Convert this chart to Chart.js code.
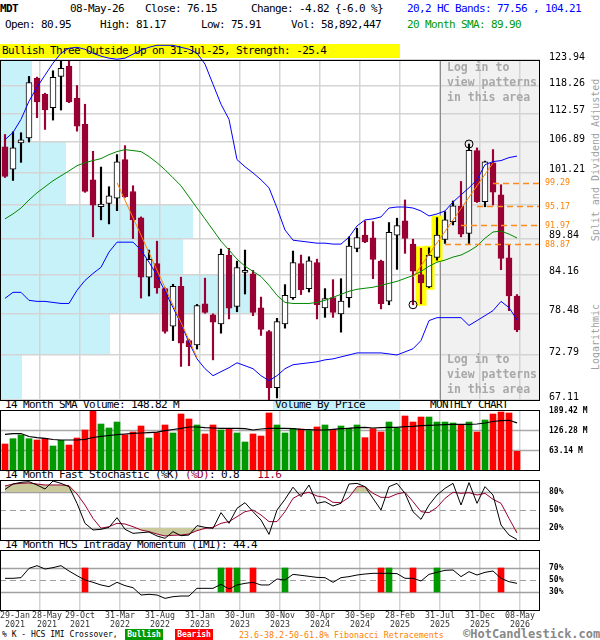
<!DOCTYPE html>
<html><head><meta charset="utf-8">
<script src="https://cdn.jsdelivr.net/npm/chart.js@4.4.1/dist/chart.umd.min.js"></script>
<style>
html,body{margin:0;padding:0;background:#fff;}
#wrap{position:relative;width:600px;height:640px;overflow:hidden;font-family:"DejaVu Sans Mono",monospace;}
canvas{position:absolute;left:0;top:0;z-index:1;}
.t{position:absolute;white-space:pre;font-size:11px;letter-spacing:-0.62px;line-height:12px;color:#000;z-index:0;}
.s{position:absolute;white-space:pre;font-size:8px;line-height:10px;color:#000;z-index:0;}
.lg{position:absolute;white-space:pre;font-weight:bold;font-size:11.5px;line-height:15px;color:#a8a8a8;z-index:2;}
.rot{position:absolute;white-space:pre;font-size:10px;color:#a0a0a0;transform:translate(-50%,-50%) rotate(-90deg);z-index:0;}
</style></head>
<body><div id="wrap">
<div class="t" style="left:0;top:3px;font-weight:bold;">MDT</div>
<div class="t" style="left:70px;top:3px;">08-May-26</div>
<div class="t" style="left:145px;top:3px;">Close: 76.15</div>
<div class="t" style="left:251px;top:3px;">Change: -4.82 {-6.0 %}</div>
<div class="t" style="left:407px;top:3px;color:#0000ff;">20,2 HC Bands: 77.56 , 104.21</div>
<div class="t" style="left:5px;top:19px;">Open: 80.95</div>
<div class="t" style="left:100px;top:19px;">High: 81.17</div>
<div class="t" style="left:201px;top:19px;">Low: 75.91</div>
<div class="t" style="left:291px;top:19px;">Vol: 58,892,447</div>
<div class="t" style="left:407px;top:19px;color:#009900;">20 Month SMA: 89.90</div>
<div class="t" style="left:0;top:44px;width:398px;height:14px;line-height:14px;padding-left:2px;background:#ffff00;">Bullish Three Outside Up on 31-Jul-25, Strength: -25.4</div>

<div class="t" style="left:5px;top:399px;">14 Month SMA Volume: 148.82 M</div>
<div class="t" style="left:273px;top:400px;width:125px;height:10px;line-height:10px;padding-left:2px;background:#c8f2fa;">Volume By Price</div>
<div class="t" style="left:430px;top:399px;">MONTHLY CHART</div>
<div class="t" style="left:5px;top:469px;">14 Month Fast Stochastic (%K) <span style="color:#990033">(%D)</span>: 0.8   <span style="color:#990033">11.6</span></div>
<div class="t" style="left:5px;top:539px;">14 Month HCS Intraday Momentum (IMI): 44.4</div>

<div class="s" style="left:2px;top:630px;">% K - HCS IMI Crossover,</div>
<div class="s" style="left:125px;top:629px;width:38px;height:11px;line-height:11px;background:#009900;color:#fff;font-weight:bold;text-align:center;">Bullish</div>
<div class="s" style="left:175px;top:629px;width:38px;height:11px;line-height:11px;background:#ff0000;color:#fff;font-weight:bold;text-align:center;">Bearish</div>
<div class="s" style="left:239px;top:630px;font-size:8.3px;color:#ff8000;">23.6-38.2-50-61.8% Fibonacci Retracements</div>
<div class="t" style="left:463px;top:628px;font-size:12px;letter-spacing:0;line-height:12px;font-weight:bold;color:#888;">©HotCandlestick.com</div>

<div class="rot" style="left:595px;top:160px;">Split and Dividend Adjusted</div>
<div class="rot" style="left:595px;top:337px;">Logarithmic</div>

<div class="lg" style="left:447px;top:60px;">Log in to
view patterns
in this area</div>
<div class="lg" style="left:447px;top:352px;">Log in to
view patterns
in this area</div>

<canvas id="cMain" width="600" height="640"></canvas>
<canvas id="cVol" width="600" height="640"></canvas>
<canvas id="cSto" width="600" height="640"></canvas>
<canvas id="cImi" width="600" height="640"></canvas>
</div>
<script>
// ---------------- DATA ----------------
const tickMonths = [0,4,9,14,19,24,29,34,39,44,49,54,59,64];
const tickDates = ['29-Jan','28-May','29-Oct','31-Mar','31-Aug','31-Jan','30-Jun','30-Nov','30-Apr','30-Sep','28-Feb','31-Jul','31-Dec','08-May'];
const tickYears = ['2021','2021','2021','2022','2022','2023','2023','2023','2024','2024','2025','2025','2025','2026'];
const priceTicks = [67.11,72.79,78.48,84.16,89.84,95.53,101.21,106.89,112.57,118.26,123.94];
const volTicks = [63.14,126.28,189.42];
const stochTicks = [20,50,80];
const imiTicks = [30,50,70];

const openP = [105.95,101.8,106.7,107.69,119.9,116.52,113.74,120.32,122.58,115.69,
 110.35,99.85,95.11,95.69,96.58,103.55,97.76,93.21,83.76,85.85,
 82.05,76.67,82.39,74.71,74.12,79.84,78.27,77.0,87.17,79.44,
 84.47,84.27,79.24,75.94,68.63,77.0,80.72,85.85,82.05,86.01,
 79.24,80.72,78.37,80.72,88.23,90.36,89.91,86.22,80.22,90.36,
 92.71,88.91,84.16,82.29,86.8,89.65,92.59,95.23,90.65,105.25,
 95.98,102.93,97.17,86.74,80.95];
const highP = [108.35,108.89,108.69,120.32,120.17,116.73,121.55,123.74,123.9,118.35,
 114.43,105.12,102.17,98.6,104.49,106.19,98.78,93.38,87.96,89.38,
 82.17,82.69,83.76,74.85,79.74,83.61,78.41,88.12,88.23,86.22,
 87.96,84.79,80.81,76.08,77.77,82.64,87.8,87.17,86.9,86.53,
 82.05,83.38,83.53,90.08,91.49,92.71,92.59,86.38,92.43,93.16,
 96.28,89.7,88.23,88.32,93.26,94.27,96.1,99.55,106.51,105.76,
 103.27,105.44,98.96,88.75,81.17];
const lowP = [100.26,99.73,103.04,106.89,111.69,109.35,111.21,113.24,114.75,109.01,
 97.62,90.08,92.88,92.21,94.44,96.73,89.81,80.66,80.96,81.36,
 75.71,74.71,71.3,71.39,73.57,78.48,72.15,75.71,77.68,78.7,
 81.25,78.14,75.4,66.96,67.36,76.4,80.47,81.17,81.55,77.68,
 77.9,77.9,75.85,79.34,87.69,89.14,83.53,79.1,79.69,84.95,
 87.44,79.69,79.84,82.17,86.38,89.02,92.04,90.08,89.02,95.84,
 95.11,95.4,84.9,78.85,75.91];
const closeP = [100.44,105.76,107.29,119.01,114.91,113.24,120.1,122.08,114.91,110.01,
 97.76,95.4,95.57,96.99,103.12,96.87,92.88,83.76,86.49,82.14,
 75.94,82.39,74.34,73.89,79.59,78.6,77.22,87.28,79.19,85.22,
 84.79,78.6,76.22,68.63,77.31,81.06,86.01,81.9,86.26,79.69,
 80.57,78.6,80.22,88.59,89.97,89.27,86.49,79.84,90.82,91.92,
 89.81,84.68,82.88,87.17,90.36,92.88,95.28,90.53,105.3,95.98,
 103.12,97.66,86.64,80.96,76.15];
const upperBand = [107.35,108.75,111.35,115.06,117.99,120.61,123.24,125.47,126.6,126.82,
 126.37,125.47,124.8,124.35,124.12,124.35,125.25,126.15,126.82,127.27,
 127.27,127.27,126.82,126.37,125.47,123.02,118.63,114.43,111.35,103.55,
 102.23,101.1,99.85,98.42,94.89,91.2,89.54,89.38,89.22,89.06,
 89.06,88.91,88.91,90.03,91.87,92.88,93.05,93.38,94.89,95.06,
 95.06,94.89,94.39,93.54,93.88,94.39,95.92,97.17,98.42,99.85,
 102.61,103.18,103.37,103.93,104.21];
const lowerBand = [80.62,81.5,81.5,80.33,80.18,80.18,80.03,79.88,79.88,81.8,
 83.27,84.32,85.27,87.64,89.22,89.22,89.22,87.96,86.06,84.01,
 81.65,79.29,77.04,74.44,72.28,71.01,70.12,70.63,71.14,71.77,
 71.39,71.01,70.12,69.49,70.12,71.01,71.52,71.65,71.77,71.9,
 72.15,72.28,72.54,72.79,73.06,73.06,73.06,73.06,72.93,72.79,
 73.2,73.61,74.71,77.45,77.86,77.86,77.86,77.86,76.77,77.45,
 78.14,78.85,80.18,79.29,77.56];
const sma20 = [93.05,93.89,94.89,96.28,97.53,98.6,99.67,100.57,101.47,102.42,
 102.98,103.37,103.74,104.49,105.06,105.44,105.25,105.06,104.12,102.98,
 101.67,100.21,98.78,96.81,94.89,93.05,91.2,89.38,87.96,86.53,
 85.43,84.64,83.86,82.54,81.06,80.03,79.88,79.88,79.88,80.03,
 80.33,80.77,81.21,81.65,81.95,82.1,82.25,82.54,82.83,83.13,
 83.57,84.01,84.64,85.43,86.06,86.38,86.85,87.17,87.8,88.59,
 89.86,90.87,91.03,90.53,89.90];
const volumeM = [82.1,98.9,110.5,98.9,94.7,100.0,75.8,93.7,78.9,101.0,
 126.3,187.3,145.2,132.6,151.5,111.5,120.0,138.9,101.0,117.9,
 142.1,116.8,176.8,161.0,142.1,113.7,142.1,126.3,128.4,116.8,
 88.4,113.7,107.3,180.0,142.1,116.8,131.5,129.4,124.2,135.8,
 142.1,128.4,138.9,132.6,142.1,102.1,130.5,120.0,151.5,131.5,
 170.5,151.5,167.3,167.3,151.5,151.5,148.4,144.2,151.5,120.0,
 157.9,176.8,183.1,180.0,58.89];
const volSma = [112.7,114.6,115.2,105.8,102.0,100.1,96.3,94.7,94.7,94.7,
 96.9,102.6,106.4,108.9,111.4,113.7,115.9,116.8,117.8,119.3,
 124.1,127.9,131.6,135.8,135.8,133.5,132.6,131.6,131.6,131.6,
 130.4,126.3,129.4,131.6,131.6,131.6,130.4,128.5,127.2,126.3,
 126.3,128.5,130.4,131.6,133.5,134.8,132.6,133.5,134.8,134.8,
 136.7,138.0,139.9,141.1,142.1,143.0,144.3,144.3,144.3,145.2,
 148.4,153.1,155.6,156.9,148.82];
const stochK = [84.4,93.3,96.1,97.2,91.7,85,98.3,94.4,88.9,61.1,
 27.8,16.7,17.8,21.1,37.2,17.8,11.1,12.2,13.3,6.7,
 2.8,13.9,7.2,8.3,23.9,21.1,19.4,45.6,27.8,52.8,
 62.2,47.2,33.3,9.4,50,67.8,88,72.2,91.7,61.1,
 63.9,56.7,61.1,93.3,94.4,88.9,69.4,50,88.9,94.4,
 77.8,47.2,34.4,58.3,75,86.1,94.4,58.3,95.6,61.1,
 88.9,75,25,8.3,0.8];
const stochD = [90,93.3,94.4,95,93.3,91.7,91.7,91.7,90.6,76.7,
 58.3,36.1,19.6,22.2,27.8,26.7,22.2,16.7,13.9,10,
 6.7,7.8,8.3,10,15.6,19.4,21.1,27.8,30.6,38.9,
 47.2,50,41.7,30.6,30.6,47.2,69.4,76.7,79.5,73.3,
 71.1,62.8,62.2,71.1,88.9,88.9,77.8,71.1,71.1,76.7,
 79.5,63.9,47.2,45.6,54.4,69.4,79.5,77.8,78.9,75,
 77.8,67.8,61.1,36.1,11.6];
const imi = [52.8,52.8,53.9,69.4,73.9,68.3,70.6,73.9,65,57.2,
 50,46.1,41.7,38.9,46.1,40.6,37.2,25,26.1,25,
 19.4,22.2,23.3,23.3,36.1,36.1,36.1,42.8,35,41.7,
 44.4,46.1,41.7,41.7,51.7,50,59.4,57.8,56.1,54.4,
 53.9,46.1,53.9,55.6,58.3,60,61.1,61.1,61.1,60.6,
 52.8,52.8,48.3,59.4,62.8,66.1,66.7,55.6,63.9,58.3,
 62.8,65,52.8,47.2,44.4];
const bullCross = [27,29,35,48,54];
const bearCross = [10,28,31,47,51,62];
const fibLevels = [99.29,95.17,91.97,88.87];
const fibStartMonth = [61,59,57,55];
const trendLines = [[{x:14,y:99.32},{x:24,y:72.45}],[{x:51,y:83.76},{x:61,y:102.93}]];
const patternMonths = [52,53,54];
const swingLow = {month:51, price:79.69};
const swingHigh = {month:58, price:106.51};
const vbpVolumeM = [209,1045,2404,1739,1834,627,627,304,304,304];  // per price zone, bottom to top
const lockedFromMonth = 54;

// ---------------- STYLE / LAYOUT ----------------
const MONO = '"DejaVu Sans Mono", monospace';
Chart.defaults.font.family = MONO;
const GRID = '#d4d4d4';
const MAROON = '#990033';
const MONTH_END = 0.375;
const X_MIN = -0.625, X_MAX = 66.875;
const VBP_MAX = 5130;
const pts = a => a.map((v,i)=>({x:i,y:v}));
const isBull = i => closeP[i] >= openP[i];

function xAxis(){
  return {type:'linear',min:X_MIN,max:X_MAX,position:'bottom',offset:false,
    grid:{color:GRID,lineWidth:1.5,drawTicks:false,offset:false},
    border:{display:false}, ticks:{display:false},
    afterBuildTicks:s=>{s.ticks=tickMonths.slice(1).map(m=>({value:m+MONTH_END}));}};
}
function yAxis(min,max,ticks,fmt,font,labelOffset){
  return {type:'linear',position:'right',min,max,
    afterBuildTicks:s=>{s.ticks=ticks.map(v=>({value:v}));},
    afterFit:s=>{s.width=60;},
    grid:{display:false,drawTicks:false}, border:{display:false},
    ticks:{autoSkip:false,padding:9,color:'#000',font,callback:fmt,labelOffset:labelOffset||0}};
}
function frame(id){
  return {id:id, afterDraw(c){const {ctx,chartArea:a}=c; ctx.save(); ctx.strokeStyle='#000'; ctx.lineWidth=1;
    ctx.strokeRect(Math.round(a.left)+0.5,Math.round(a.top)+0.5,Math.round(a.right-a.left)-1,Math.round(a.bottom-a.top)); ctx.restore();}};
}
function refLines(id,levels,solidColor){
  return {id:id, beforeDatasetsDraw(c){const {ctx,chartArea:a,scales:{y}}=c; ctx.save();
    levels.forEach(l=>{const py=Math.round(y.getPixelForValue(l.v))+0.5; ctx.beginPath();
      ctx.strokeStyle=l.dash?'#a0a0a0':solidColor; ctx.lineWidth=l.dash?1:1.5; ctx.setLineDash(l.dash?[6,4]:[]);
      ctx.moveTo(a.left,py); ctx.lineTo(a.right,py); ctx.stroke();});
    ctx.restore();}};
}
const common = {responsive:false,animation:false,events:[],
  plugins:{legend:{display:false},tooltip:{enabled:false}}};

// ---------------- MAIN PRICE CHART ----------------
const mainDeco = {
  id:'mainDeco',
  beforeDraw(c){
    const {ctx,chartArea:a,scales:{x,y,xv}}=c; ctx.save();
    ctx.fillStyle='#c8f2fa';
    vbpVolumeM.forEach((v,k)=>{const t=y.getPixelForValue(priceTicks[k+1]), b=y.getPixelForValue(priceTicks[k]);
      ctx.fillRect(a.left,t,xv.getPixelForValue(v)-a.left,b-t);});
    const lx=x.getPixelForValue(lockedFromMonth+MONTH_END);
    ctx.fillStyle='#f1f1f1'; ctx.fillRect(lx,a.top,a.right-lx,a.bottom-a.top);
    ctx.restore();
  },
  beforeDatasetsDraw(c){
    const {ctx,chartArea:a,scales:{x,y}}=c; ctx.save();
    const lx=Math.round(x.getPixelForValue(lockedFromMonth+MONTH_END))+0.5;
    ctx.strokeStyle='#8c8c8c'; ctx.lineWidth=1; ctx.beginPath(); ctx.moveTo(lx,a.top); ctx.lineTo(lx,a.bottom); ctx.stroke();
    ctx.fillStyle='#ffff00';
    patternMonths.forEach(m=>{const px=x.getPixelForValue(m); const t=y.getPixelForValue(highP[m])-2, b=y.getPixelForValue(lowP[m])+2;
      ctx.fillRect(px-5.5,t,11,b-t);});
    ctx.restore();
  },
  afterDatasetsDraw(c){
    const {ctx,chartArea:a,scales:{x,y}}=c; ctx.save();
    ctx.strokeStyle='#ff8c1a'; ctx.lineWidth=1.5; ctx.setLineDash([6,4]);
    fibLevels.forEach((v,k)=>{const py=Math.round(y.getPixelForValue(v))+0.5; ctx.beginPath();
      ctx.moveTo(x.getPixelForValue(fibStartMonth[k]),py); ctx.lineTo(a.right,py); ctx.stroke();});
    ctx.setLineDash([]); ctx.strokeStyle='#000'; ctx.lineWidth=1;
    [[swingLow.month,swingLow.price],[swingHigh.month,swingHigh.price]].forEach(([m,p])=>{
      ctx.beginPath(); ctx.arc(x.getPixelForValue(m),y.getPixelForValue(p),4,0,Math.PI*2); ctx.stroke();});
    ctx.restore();
  },
  afterDraw(c){
    const {ctx,chartArea:a,scales:{y}}=c; ctx.save();
    ctx.fillStyle='#ff8000'; ctx.font='8.3px '+MONO; ctx.textBaseline='middle';
    fibLevels.forEach(v=>ctx.fillText(v.toFixed(2),a.right+5,y.getPixelForValue(v)));
    ctx.restore();
  }
};
const hiddenByFib = v => fibLevels.some(f=>Math.abs(f-v)/v<0.01);
new Chart(document.getElementById('cMain'),{
  type:'line',
  data:{datasets:[
    {label:'Upper band',data:pts(upperBand),borderColor:'#0000ff',borderWidth:1,pointRadius:0,clip:false,order:1,xAxisID:'x',yAxisID:'y'},
    {label:'Lower band',data:pts(lowerBand),borderColor:'#0000ff',borderWidth:1,pointRadius:0,clip:false,order:1,xAxisID:'x',yAxisID:'y'},
    {label:'20 Month SMA',data:pts(sma20),borderColor:'#008800',borderWidth:1,pointRadius:0,order:1,xAxisID:'x',yAxisID:'y'},
    {label:'Trend 1',data:trendLines[0],borderColor:'#ff8000',borderWidth:1,pointRadius:0,order:0,xAxisID:'x',yAxisID:'y'},
    {label:'Trend 2',data:trendLines[1],borderColor:'#ff8000',borderWidth:1,pointRadius:0,order:0,xAxisID:'x',yAxisID:'y'},
    {type:'bar',label:'Range',data:lowP.map((l,i)=>({x:i,y:[l,highP[i]]})),grouped:false,barThickness:1.5,
      backgroundColor:c=>isBull(c.dataIndex)?'#000':MAROON,order:3,xAxisID:'x',yAxisID:'y'},
    {type:'bar',label:'Body',data:openP.map((o,i)=>({x:i,y:[o,closeP[i]]})),grouped:false,barThickness:6,minBarLength:2,
      backgroundColor:c=>isBull(c.dataIndex)?'#fff':MAROON,borderColor:c=>isBull(c.dataIndex)?'#000':MAROON,
      borderWidth:1,borderSkipped:false,order:2,xAxisID:'x',yAxisID:'y'}
  ]},
  options:Object.assign({},common,{
    layout:{padding:{top:60,bottom:240,left:0,right:0}},
    scales:{
      x:xAxis(),
      y:{type:'logarithmic',position:'right',min:67.11,max:123.94,
        afterBuildTicks:s=>{s.ticks=priceTicks.map(v=>({value:v}));},
        afterFit:s=>{s.width=60;},
        grid:{color:GRID,lineWidth:1.5,drawTicks:false}, border:{display:false},
        ticks:{autoSkip:false,padding:9,color:'#000',font:{size:10},labelOffset:-3,
          callback:v=>hiddenByFib(v)?'':Number(v).toFixed(2)}},
      xv:{type:'linear',display:false,position:'top',min:0,max:VBP_MAX}
    }
  }),
  plugins:[mainDeco,frame('fMain')]
});

// ---------------- VOLUME ----------------
new Chart(document.getElementById('cVol'),{
  type:'line',
  data:{datasets:[
    {label:'14 Month SMA Volume',data:pts(volSma),borderColor:'#000',borderWidth:1.2,pointRadius:0,order:1},
    {type:'bar',label:'Volume (M)',data:pts(volumeM),grouped:false,barThickness:6,
      backgroundColor:c=>isBull(c.dataIndex)?'#009900':'#ff0000',order:2}
  ]},
  options:Object.assign({},common,{
    layout:{padding:{top:410,bottom:170,left:0,right:0}},
    scales:{x:xAxis(), y:yAxis(0,189.42,volTicks,v=>Number(v).toFixed(2)+' M',{size:8,weight:'bold'},1)}
  }),
  plugins:[refLines('rVol',[{v:63.14},{v:126.28}],'#a8a8a8'),frame('fVol')]
});

// ---------------- STOCHASTIC ----------------
const KHAKI = '#c9c99b';
new Chart(document.getElementById('cSto'),{
  type:'line',
  data:{datasets:[
    {label:'%D fill high',data:pts(stochD),borderWidth:0,borderColor:'rgba(0,0,0,0)',pointRadius:0,
      fill:{target:{value:80},above:KHAKI,below:'rgba(0,0,0,0)'},order:4},
    {label:'%D fill low',data:pts(stochD),borderWidth:0,borderColor:'rgba(0,0,0,0)',pointRadius:0,
      fill:{target:{value:20},above:'rgba(0,0,0,0)',below:KHAKI},order:3},
    {label:'%D',data:pts(stochD),borderColor:MAROON,borderWidth:1,pointRadius:0,order:2},
    {label:'%K',data:pts(stochK),borderColor:'#000',borderWidth:1,pointRadius:0,order:1}
  ]},
  options:Object.assign({},common,{
    layout:{padding:{top:480,bottom:100,left:0,right:0}},
    scales:{x:xAxis(), y:yAxis(0,100,stochTicks,v=>v+'%',{size:8,weight:'bold'},0)}
  }),
  plugins:[refLines('rSto',[{v:80},{v:50,dash:true},{v:20}],'#a0a0a0'),frame('fSto')]
});

// ---------------- IMI ----------------
const dateLabels = {id:'dateLabels', afterDraw(c){
  const {ctx,chartArea:a,scales:{x}}=c; ctx.save();
  ctx.font='8.3px '+MONO; ctx.fillStyle='#333'; ctx.textBaseline='middle'; ctx.textAlign='center';
  let prevRight=-Infinity;
  tickMonths.forEach((m,k)=>{let px=x.getPixelForValue(m+MONTH_END); const w=ctx.measureText(tickDates[k]).width;
    px=Math.max(px,w/2,prevRight+2+w/2); prevRight=px+w/2;
    ctx.fillText(tickDates[k],px,a.bottom+6); ctx.fillText(tickYears[k],px,a.bottom+15);});
  ctx.restore();}};
new Chart(document.getElementById('cImi'),{
  type:'line',
  data:{datasets:[
    {label:'IMI',data:pts(imi),borderColor:'#000',borderWidth:1,pointRadius:0,order:1},
    {type:'bar',label:'Bullish crossover',data:bullCross.map(m=>({x:m,y:[30,70]})),grouped:false,barThickness:6,backgroundColor:'#009900',order:2},
    {type:'bar',label:'Bearish crossover',data:bearCross.map(m=>({x:m,y:[30,70]})),grouped:false,barThickness:6,backgroundColor:'#ff0000',order:2}
  ]},
  options:Object.assign({},common,{
    layout:{padding:{top:550,bottom:30,left:0,right:0}},
    scales:{x:xAxis(), y:yAxis(0,100,imiTicks,v=>v+'%',{size:8,weight:'bold'},0)}
  }),
  plugins:[refLines('rImi',[{v:70},{v:50,dash:true},{v:30}],'#a0a0a0'),frame('fImi'),dateLabels]
});
</script>
</body></html>
